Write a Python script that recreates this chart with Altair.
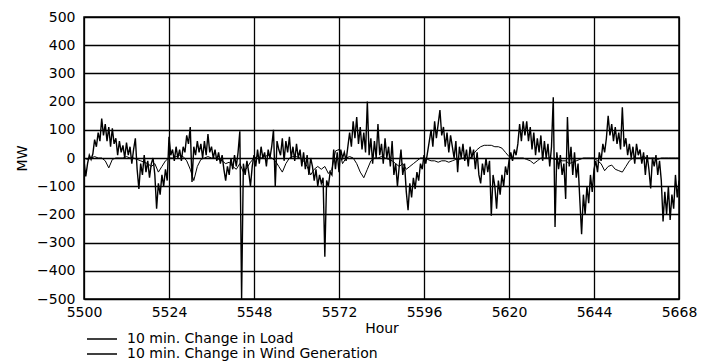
import altair as alt
import pandas as pd

LOAD_LABEL = "10 min. Change in Load"
WIND_LABEL = "10 min. Change in Wind Generation"

START_HOUR = 5500
X_TICKS = [5500, 5524, 5548, 5572, 5596, 5620, 5644, 5668]
Y_TICKS = [-500, -400, -300, -200, -100, 0, 100, 200, 300, 400, 500]

# Wind generation change, read every half hour (MW)
wind_day1 = [-10, -65, -20, 10, -5, 15, 65, 40, 90, 60, 140, 80, 120, 60, 110, 40,
             105, 50, 70, 10, 60, 20, 45, 0, 55, 10, 40, -20, 30, 70, -40, -110,
             -20, -60, 10, -50, -10, -70, -20, 0, -60, -180, -90, -130, -60, -100, -40, -80]
wind_day2 = [75, 10, 30, -10, 40, 0, 30, -10, 40, 20, 80, 50, 110, -85, 40, 10,
             60, 20, 50, 0, 60, 10, 85, 20, 40, 0, 30, -10, 20, -20, 10, -40,
             -80, -30, -60, 0, -40, 10, -30, 20, 95, -500, -20, -60, -10, -50, -100, -30]
wind_day3 = [10, -30, 30, -20, 40, 0, 20, -30, 30, 0, 40, 100, -100, 60, 30, 10,
             70, -10, 60, 20, 75, 0, 40, -10, 50, 0, 30, -30, 20, -40, 10, -60,
             0, -30, -80, -40, -100, -60, -90, -70, -350, -80, -100, -50, -60, 30, -40, 20]
wind_day4 = [-50, 30, 0, 20, -10, 40, 90, 40, 130, 70, 145, 50, 110, 30, 90, 20,
             200, 10, 70, -20, 60, 0, 120, 10, 50, -20, 70, 0, 40, -30, 60, -60,
             -20, -100, -30, 30, -60, -20, -120, -185, -90, -140, -70, -110, -50, -80, -20, -40]
wind_day5 = [10, -20, 20, 60, 100, 40, 130, 70, 120, 170, 80, 110, 40, 90, 20, 80,
             40, 0, 60, -50, 40, 0, 50, -10, 30, -30, 40, 0, 30, -40, 20, -60,
             -90, -20, -60, 0, -50, -10, -205, -60, -100, -180, -80, -130, -60, -100, -30, -60]
wind_day6 = [-10, 20, -10, 30, 10, 50, 120, 60, 130, 80, 130, 60, 110, 30, 90, 10,
             70, 20, 80, -10, 60, 0, 50, -30, 40, 215, -245, 20, -40, 10, -60, -20,
             -145, 145, -30, 40, -60, 20, -70, -20, -150, -270, -130, -200, -100, -160, -60, -120]
wind_day7 = [-40, -10, -50, 20, -10, 50, 20, 70, 150, 80, 120, 60, 110, 50, 90, 30,
             180, 40, 70, 10, 50, 0, 40, -20, 50, 10, 30, -20, 20, -60, 10, -40,
             -108, 0, -30, 10, -60, -10, -80, -225, -120, -200, -100, -220, -130, -180, -60, -140, -80]

# Load change, read every hour (MW)
load_day1 = [0, -5, 0, 5, 0, 0, -10, -35, -5, 0, 0, 0, 5, 0, 0, -5, -10, -15, -20, -30, -20, -50, -30, -10]
load_day2 = [0, 0, 5, 10, 5, -10, -40, -80, -30, -5, 0, 5, 0, 0, -5, -10, -20, -15, -30, -40, -20, -50, -35, -15]
load_day3 = [0, 5, 0, 5, 10, 0, -10, -30, -50, -20, 0, 5, 5, 0, -10, -30, -60, -40, -30, -40, -30, -55, -40, 25]
load_day4 = [30, -20, 0, 5, 0, -20, -50, -70, -40, -10, 0, 0, 5, 0, -5, -10, -20, -30, -20, -40, -30, -20, -10, 0]
load_day5 = [0, -5, -10, -10, -15, -10, -10, -15, -10, -5, -5, 0, 0, 0, 15, 30, 40, 45, 45, 45, 40, 40, 35, 20]
load_day6 = [5, 0, 0, 0, 0, -5, -10, -20, -10, 0, 0, 0, 0, -5, -5, -10, -10, -20, -15, -10, -5, 0, 0, 0]
load_day7 = [0, -10, -20, -45, -30, -25, -40, -45, -50, -30, -10, 0, 0, 0, 5, 0, 0, 0, -5, 0, 0, 0, 0, 0, 0]

wind = wind_day1 + wind_day2 + wind_day3 + wind_day4 + wind_day5 + wind_day6 + wind_day7
load = load_day1 + load_day2 + load_day3 + load_day4 + load_day5 + load_day6 + load_day7

wind_df = pd.DataFrame({
    "Hour": [START_HOUR + 0.5 * i for i in range(len(wind))],
    "MW": wind,
    "Series": WIND_LABEL,
})
load_df = pd.DataFrame({
    "Hour": [START_HOUR + i for i in range(len(load))],
    "MW": load,
    "Series": LOAD_LABEL,
})

FONT = "DejaVu Sans"
PLOT_W = 595
PLOT_H = 282

x_enc = alt.X(
    "Hour:Q",
    scale=alt.Scale(domain=[5500, 5668], nice=False, zero=False),
    axis=alt.Axis(values=X_TICKS, format="d", title="Hour", grid=True,
                  tickSize=0, labelPadding=6, titlePadding=2,
                  labelFlush=False, labelOverlap=False),
)
y_enc = alt.Y(
    "MW:Q",
    scale=alt.Scale(domain=[-500, 500], nice=False),
    axis=alt.Axis(values=Y_TICKS, format="d", title="MW", grid=True,
                  tickSize=0, labelPadding=9, labelFlush=False, labelOverlap=False,
                  titleX=-62, titleY=PLOT_H / 2, titleAngle=-90, titleAlign="center",
                  titleBaseline="middle"),
)
color_enc = alt.Color(
    "Series:N",
    scale=alt.Scale(domain=[LOAD_LABEL, WIND_LABEL], range=["black", "black"]),
    legend=alt.Legend(title=None, orient="none", legendX=11, legendY=315,
                      symbolType="M-2.5,0H2.5", symbolSize=144, symbolStrokeWidth=1.5,
                      labelFontSize=14, labelOffset=18, rowPadding=1, labelLimit=0,
                      labelColor="black", labelFont=FONT),
)

load_line = alt.Chart(load_df).mark_line(strokeWidth=1.0, clip=True).encode(
    x=x_enc, y=y_enc, color=color_enc
)
wind_line = alt.Chart(wind_df).mark_line(strokeWidth=1.4, clip=True).encode(
    x=x_enc, y=y_enc, color=color_enc
)

chart = alt.layer(load_line, wind_line).properties(
    width=PLOT_W,
    height=PLOT_H,
    autosize=alt.AutoSizeParams(type="none"),
    padding={"left": 84, "top": 17, "right": 23, "bottom": 64},
    background="white",
).configure_view(
    stroke="black", strokeWidth=1.5
).configure_axis(
    gridColor="black", gridOpacity=1, gridWidth=1.3,
    domain=False,
    labelFont=FONT, labelFontSize=14, labelColor="black",
    titleFont=FONT, titleFontSize=14, titleFontWeight="normal", titleColor="black",
)

chart.save("out.html", embed_options={"renderer": "svg", "actions": False})
